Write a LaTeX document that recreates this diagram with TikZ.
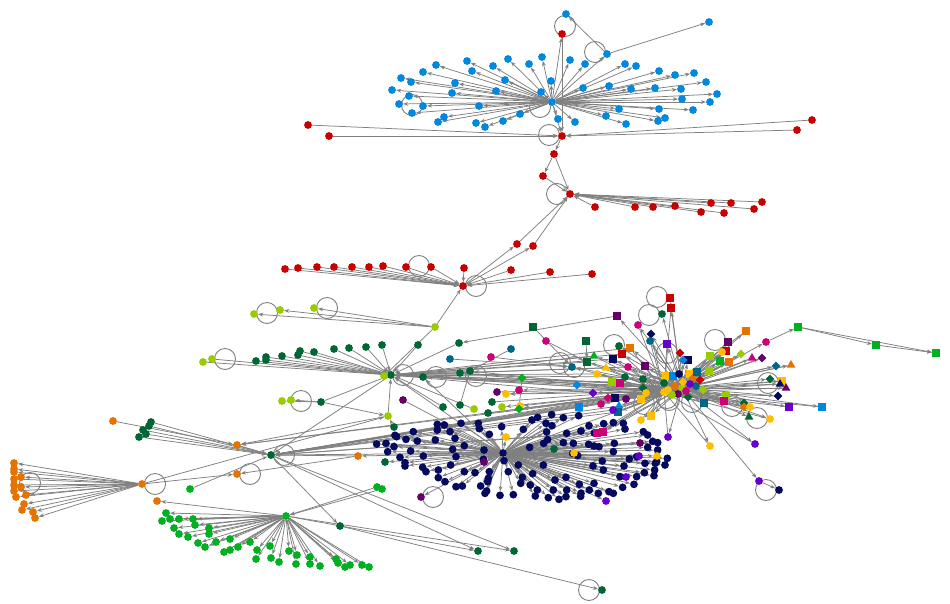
\documentclass[tikz,border=0pt]{standalone}
\usetikzlibrary{arrows.meta,shapes.geometric}
\pgfdeclarelayer{bg}
\pgfdeclarelayer{edges}
\pgfsetlayers{bg,edges,main}
\definecolor{cblue}{RGB}{0,136,224}
\definecolor{cred}{RGB}{200,0,0}
\definecolor{cyg}{RGB}{153,204,0}
\definecolor{cdg}{RGB}{0,102,51}
\definecolor{cnavy}{RGB}{5,10,95}
\definecolor{corange}{RGB}{230,115,0}
\definecolor{cgreen}{RGB}{0,176,32}
\definecolor{cmag}{RGB}{204,0,119}
\definecolor{cpur}{RGB}{102,0,102}
\definecolor{cvio}{RGB}{102,0,204}
\definecolor{cgold}{RGB}{255,190,0}
\definecolor{cteal}{RGB}{0,102,136}
\definecolor{egray}{RGB}{128,128,128}
\newcommand\sloop[3]{\draw[lp] ([shift={(#2,#3)}]#1.center) circle (10.5pt);}
\def\bluelist{436/65,467/61,508/59,542/57,570/60,585/64,625/64,636/66,659/71,675/75,694/73,706/82,717/94,681/89,682/99,710/102,693/110,659/109,665/118,658/121,626/124,619/109,606/116,655/88,631/89,609/86,583/88,575/122,558/119,551/81,541/92,529/64,505/80,493/66,472/71,455/83,423/72,401/78,411/82,392/90,409/96,399/104,412/113,452/93,496/91,479/106,520/114,503/121,485/127,476/123,444/117,438/122}
\def\redalist{595/207,635/207,653/207,675/206,701/212,711/203,724/213,731/203,754/209,762/202}
\def\redblist{285/269,298/268,317/267,334/267,352/267,369/267,383/266,431/267,464/268,511/270,550/272,592/274}
\def\dglist{203/362/cyg,256/361/cdg,266/357/cdg,266/360/cdg,282/356/cdg,298/355/cdg,300/351/cdg,314/352/cdg,334/349/cdg,349/348/cdg,366/347/cdg,382/345/cdg,418/345/cdg}
\def\orlist{14/463,14/469,14/472,14/479,21/477,14/485,14/491,26/495,16/497,24/504,22/510,33/512,35/518}
\def\dllist{151/422,149/426,143/430,146/434,139/437}
\def\grlist{166/513,162/521,170/519,179/519,193/519,174/528,195/525,209/528,179/534,188/537,209/534,198/543,205/547,216/542,230/539,224/552,230/550,238/547,250/542,257/550,270/546,256/559,271/558,279/562,289/551,297/555,296/564,310/557,310/564,320/566,336/559,338/563,345/567,350/565,362/565,369/567}
\def\navylist{262/133,283/135,333/130,385/130,388/146,418/163,455/140,520/148,546/120,563/112,605/104,640/113,588/130,606/137,590/156,593/179,686/107,693/153,717/137,761/131,790/128,820/130,825/147,262/150,300/155,190/155,135/166,140/170,168/178,202/183,256/180,315/175,80/192,108/190,132/200,182/213,113/215,150/232,165/248,165/258,220/228,218/262,228/275,265/270,308/208,302/255,318/230,343/197,343/275,375/278,402/210,400/238,462/242,505/255,475/275,418/275,415/295,413/305,392/318,337/318,318/320,285/305,265/293,405/340,410/333,450/346,490/344,512/310,517/292,548/281,541/315,556/348,580/255,562/330,595/353,610/330,615/300,627/358,648/350,650/330,648/292,688/313,693/340,692/349,718/330,745/340,732/310,777/335,790/340,810/290,818/322,852/313,860/290,883/278,912/287,945/255,914/270,916/250,885/250,838/237,822/258,757/243,729/258,760/270,790/215,793/190,732/198,747/200,716/193,683/227,668/220,670/190,640/188,581/190,539/202,650/160,733/159,880/155,893/165,908/184,923/188,893/202,923/210,952/235,920/245,860/230}
\def\nxlist{484/462/cpur,640/443/cpur,639/456/cvio,626/477/cvio,606/501/cvio,506/437/cgold,574/453/cgold,657/456/cgold}
\def\qalist{671/308/cred/sqn,638/325/cmag/nd,651/334/cnavy/dmn,650/341/cteal/nd,667/344/cvio/sqn,746/331/corange/sqn,726/351/cred/sqn,722/352/cgold/nd,729/362/corange/sqn,720/361/cgreen/sqn,710/356/cyg/sqn,741/354/cyg/dmn,752/358/cmag/trn,762/358/cpur/dmn,776/366/cteal/dmn,791/365/corange/trn,782/381/cgold/sqn,780/384/cnavy/trn,786/388/cpur/trn,778/396/cnavy/dmn,789/407/cvio/sqn,822/407/cblue/sqn,726/396/cyg/sqn,724/401/cmag/sqn,704/403/cteal/sqn,744/403/cdg/dmn,744/407/corange/dmn,750/407/cgold/nd,770/419/cgold/nd,641/399/cgold/sqn,651/416/cgold/sqn,641/420/cgold/nd,645/366/cpur/sqn,643/379/cdg/nd,643/388/cdg/dmn,646/393/cgold/nd,680/353/cred/dmn,688/360/cnavy/sqn,683/360/cblue/dmn,666/376/cgold/sqn,673/376/cblue/sqn,664/383/cdg/nd,679/374/cnavy/nd,690/374/cgold/sqn,683/382/cgold/dmn,693/378/corange/dmn,709/371/cyg/sqn,668/390/cgold/nd,678/394/cpur/nd,688/397/cdg/dmn,672/395/cyg/nd,686/391/cmag/nd,696/386/cteal/nd,700/380/cred/dmn,675/386/corange/nd,690/384/cvio/nd,697/372/cteal/sqn,703/390/cyg/dmn,668/437/cvio/nd,710/446/cgold/nd,755/444/cvio/nd}
\def\qblist{630/348/corange/sqn,622/354/cred/sqn,613/359/cnavy/sqn,628/367/cmag/nd,606/368/cgold/trn,594/356/cgreen/trn,587/362/cdg/sqn,597/374/cgold/nd,625/377/cdg/nd,612/382/cyg/sqn,620/383/cmag/sqn,577/385/cblue/dmn,593/393/cvio/dmn}
\def\qclist{608/398/cmag/dmn,615/398/cnavy/sqn,626/399/cpur/nd,601/404/cmag/nd,579/407/cblue/sqn,619/406/cblue/trn,618/412/cteal/sqn,613/410/cvio/nd,597/433/cmag/sqn,603/432/cmag/sqn}
\begin{document}
\begin{tikzpicture}[x=1pt,y=-1pt,
 nd/.style={circle,inner sep=0pt,minimum size=7.8pt},
 sqn/.style={rectangle,inner sep=0pt,minimum size=7.8pt},
 dmn/.style={diamond,inner sep=0pt,minimum size=8.8pt},
 trn/.style={regular polygon,regular polygon sides=3,inner sep=0pt,minimum size=10pt},
 ed/.style={draw=egray,line width=0.75pt,-{Stealth[length=5pt,width=3.8pt]}},
 ln/.style={draw=egray,line width=0.75pt},
 lp/.style={draw=egray,line width=0.9pt}]
\begin{pgfonlayer}{bg}
\fill[white] (0,0) rectangle (950,603);
\end{pgfonlayer}
\useasboundingbox (0,0) rectangle (950,603);

% ---------- hubs and key nodes ----------
\node[nd,fill=cblue] (bh) at (552,102) {};
\node[nd,fill=cblue] (bx1) at (607,54) {};
\node[nd,fill=cblue] (bx2) at (566,14) {};
\node[nd,fill=cblue] (bx3) at (709,22) {};
\node[nd,fill=cblue] (bL) at (423,106) {};
\node[nd,fill=cred] (r1) at (562,34) {};
\node[nd,fill=cred] (r2) at (562,136) {};
\node[nd,fill=cred] (r3) at (554,154) {};
\node[nd,fill=cred] (r4) at (543,176) {};
\node[nd,fill=cred] (rh2) at (570,194) {};
\node[nd,fill=cred] (r5) at (517,244) {};
\node[nd,fill=cred] (r6) at (533,246) {};
\node[nd,fill=cred] (rh3) at (463,286) {};
\node[nd,fill=cred] (rf1) at (308,125) {};
\node[nd,fill=cred] (rf2) at (329,136) {};
\node[nd,fill=cred] (rf3) at (812,120) {};
\node[nd,fill=cred] (rf4) at (797,130) {};
\node[nd,fill=cred] (r406) at (406,267) {};
\node[nd,fill=cyg] (ygh) at (435,327) {};
\node[nd,fill=cyg] (y254) at (254,314) {};
\node[nd,fill=cyg] (y280) at (280,310) {};
\node[nd,fill=cyg] (y314) at (314,308) {};
\node[nd,fill=cdg] (dgh) at (391,375) {};
\node[nd,fill=cyg] (ygd) at (384,376) {};
\node[nd,fill=cyg] (y212) at (212,359) {};
\node[nd,fill=cdg] (d459) at (459,343) {};
\node[nd,fill=cdg] (d460) at (460,373) {};
\node[nd,fill=cdg] (d470) at (470,371) {};
\node[nd,fill=cdg] (d423) at (423,377) {};
\node[nd,fill=cdg] (d443) at (443,407) {};
\node[nd,fill=cdg] (d460b) at (460,405) {};
\node[nd,fill=cyg] (y474) at (474,409) {};
\node[nd,fill=cdg] (d488) at (488,413) {};
\node[nd,fill=cdg] (d492) at (492,402) {};
\node[nd,fill=cyg] (y388) at (388,416) {};
\node[nd,fill=cdg] (d394) at (394,427) {};
\node[nd,fill=cdg] (d321) at (321,402) {};
\node[nd,fill=cpur] (p403) at (403,400) {};
\node[nd,fill=cyg] (y282) at (282,401) {};
\node[nd,fill=cyg] (y291) at (291,400) {};
\node[nd,fill=cdg] (d385) at (385,462) {};
\node[nd,fill=cdg] (d554) at (554,449) {};
\node[nd,fill=corange] (oh) at (142,484) {};
\node[nd,fill=corange] (o21) at (21,487) {};
\node[nd,fill=corange] (o157) at (157,501) {};
\node[nd,fill=corange] (o113) at (113,421) {};
\node[nd,fill=corange] (o237) at (237,445) {};
\node[nd,fill=corange] (o237b) at (237,474) {};
\node[nd,fill=corange] (o358) at (358,456) {};
\node[nd,fill=cdg] (dgh2) at (271,455) {};
\node[nd,fill=cgreen] (g190) at (190,489) {};
\node[nd,fill=cgreen] (gh) at (286,516) {};
\node[nd,fill=cgreen] (g377) at (377,487) {};
\node[nd,fill=cgreen] (g382) at (382,489) {};
\node[nd,fill=cdg] (d340) at (340,526) {};
\node[nd,fill=cdg] (d478) at (478,551) {};
\node[nd,fill=cdg] (d514) at (514,551) {};
\node[nd,fill=cdg] (d602) at (602,590) {};
\node[nd,fill=cnavy] (nh) at (503,453) {};
\node[nd,fill=cpur] (p421) at (421,497) {};
\node[nd,fill=cyg] (rh) at (682,388) {};
\node[nd,fill=cgold] (rhb) at (664,392) {};
\node[sqn,fill=cred] (r670) at (670,298) {};
\node[nd,fill=cdg] (d662) at (662,314) {};
\node[nd,fill=cdg] (d619) at (619,346) {};
\node[sqn,fill=cpur] (p728) at (728,342) {};
\node[dmn,fill=cdg] (d770) at (770,379) {};
\node[trn,fill=cdg] (d749) at (749,417) {};
\node[nd,fill=cteal] (t572) at (572,367) {};
\node[nd,fill=cvio] (v759) at (759,481) {};
\node[nd,fill=cnavy] (n779) at (779,490) {};
\node[nd,fill=cmag] (m766) at (766,342) {};
\node[sqn,fill=cgreen] (g798) at (798,327) {};
\node[sqn,fill=cgreen] (g876) at (876,345) {};
\node[sqn,fill=cgreen] (g936) at (936,353) {};
\node[sqn,fill=cpur] (p617) at (617,316) {};
\node[sqn,fill=cdg] (d586) at (586,341) {};
\node[sqn,fill=cdg] (d533) at (533,327) {};
\node[nd,fill=cmag] (m546) at (546,341) {};
\node[nd,fill=cteal] (t511) at (511,349) {};
\node[nd,fill=cmag] (m491) at (491,357) {};
\node[nd,fill=cteal] (t450) at (450,359) {};
\node[dmn,fill=cgreen] (gd522) at (522,378) {};
\node[nd,fill=cpur] (p497) at (497,392) {};
\node[nd,fill=cgold] (o506) at (506,394) {};
\node[nd,fill=cmag] (m519) at (519,390) {};
\node[nd,fill=cgold] (o520) at (520,406) {};
\node[dmn,fill=cgreen] (gd519) at (519,409) {};
\node[nd,fill=cyg] (y502) at (502,407) {};

% ---------- leaf nodes ----------
\foreach \x/\y [count=\i] in \bluelist {\node[nd,fill=cblue] (b\i) at (\x,\y) {};}
\foreach \x/\y [count=\i] in \redalist {\node[nd,fill=cred] (ra\i) at (\x,\y) {};}
\foreach \x/\y [count=\i] in \redblist {\node[nd,fill=cred] (rb\i) at (\x,\y) {};}
\foreach \x/\y/\c [count=\i] in \dglist {\node[nd,fill=\c] (dg\i) at (\x,\y) {};}
\foreach \x/\y [count=\i] in \orlist {\node[nd,fill=corange] (o\i) at (\x,\y) {};}
\foreach \x/\y [count=\i] in \dllist {\node[nd,fill=cdg] (dl\i) at (\x,\y) {};}
\foreach \x/\y [count=\i] in \grlist {\node[nd,fill=cgreen] (g\i) at (\x,\y) {};}
\begin{scope}[shift={(350,380)},x=0.3333pt,y=-0.3333pt]
\foreach \x/\y [count=\i] in \navylist {\node[nd,fill=cnavy] (n\i) at (\x,\y) {};}
\end{scope}
\foreach \x/\y/\c [count=\i] in \nxlist {\node[nd,fill=\c] (nx\i) at (\x,\y) {};}
\foreach \x/\y/\c/\s [count=\i] in \qalist {\node[style=\s,fill=\c] (qa\i) at (\x,\y) {};}
\foreach \x/\y/\c/\s [count=\i] in \qblist {\node[style=\s,fill=\c] (qb\i) at (\x,\y) {};}
\foreach \x/\y/\c/\s [count=\i] in \qclist {\node[style=\s,fill=\c] (qc\i) at (\x,\y) {};}

% ---------- edges and loops ----------
\begin{pgfonlayer}{edges}
\foreach \x/\y [count=\i] in \bluelist {\draw[ed] (bh) -- (b\i);}
\foreach \x/\y [count=\i] in \redalist {\draw[ed] (ra\i) -- (rh2);}
\foreach \x/\y [count=\i] in \redblist {\draw[ed] (rb\i) -- (rh3);}
\foreach \x/\y/\c [count=\i] in \dglist {\draw[ed] (dg\i) -- (dgh);}
\foreach \x/\y [count=\i] in \orlist {\draw[ed] (oh) -- (o\i);}
\foreach \x/\y [count=\i] in \dllist {\draw[ed] (dl\i) -- (dgh2);}
\foreach \x/\y [count=\i] in \grlist {\draw[ed] (gh) -- (g\i);}
\foreach \x/\y [count=\i] in \navylist {\draw[ed] (nh) -- (n\i);}
\foreach \x/\y/\c [count=\i] in \nxlist {\draw[ed] (nh) -- (nx\i);}
\foreach \x/\y/\c/\s [count=\i] in \qalist {\draw[ed] (rh) -- (qa\i); \draw[ln] (rhb) -- (qa\i);}
\foreach \x/\y/\c/\s [count=\i] in \qblist {\draw[ed] (rh) -- (qb\i); \draw[ln] (rhb) -- (qb\i); \draw[ed] (qb\i) -- (dgh);}
\foreach \x/\y/\c/\s [count=\i] in \qclist {\draw[ed] (rh) -- (qc\i); \draw[ln] (rhb) -- (qc\i); \draw[ed] (qc\i) -- (dgh2);}
\draw[ed] (bh) -- (bx1); \draw[ed] (bx1) -- (bx2); \draw[ed] (bx1) -- (bx3);
\draw[ed] (bh) -- (bL);
\draw[ed] (r1) -- (r2); \draw[ed] (bh) -- (r2); \draw[ed] (bh) -- (r1);
\draw[ed] (rf1) -- (r2); \draw[ed] (rf2) -- (r2); \draw[ed] (rf3) -- (r2); \draw[ed] (rf4) -- (r2);
\draw[ed] (r2) -- (r3); \draw[ed] (r3) -- (r4); \draw[ed] (r3) -- (rh2); \draw[ed] (r4) -- (rh2);
\draw[ed] (r5) -- (rh2); \draw[ed] (r6) -- (rh2); \draw[ed] (rh3) -- (r5); \draw[ed] (rh3) -- (r6);
\draw[ed] (r406) -- (rh3);
\draw[ed] (ygh) -- (rh3);
\draw[ed] (ygh) -- (y254); \draw[ed] (ygh) -- (y280); \draw[ed] (ygh) -- (y314);
\draw[ed] (ygh) -- (ygd); \draw[ed] (ygd) -- (dgh);
\draw[ed] (y212) -- (dgh);
\draw[ed] (d459) -- (dgh); \draw[ed] (p617) -- (d459);
\draw[ed] (d460) -- (dgh); \draw[ed] (d470) -- (dgh); \draw[ed] (d423) -- (dgh);
\draw[ed] (d443) -- (dgh); \draw[ed] (d460b) -- (d470); \draw[ed] (y388) -- (dgh);
\draw[ed] (d394) -- (y388); \draw[ed] (d321) -- (dgh); \draw[ed] (d321) -- (y388);
\draw[ed] (d321) -- (y291); \draw[ed] (d321) -- (y282);
\draw[ed] (p403) -- (nh); \draw[ed] (y474) -- (dgh); \draw[ed] (d488) -- (rh); \draw[ed] (d492) -- (rh);
\draw[ed] (t511) -- (d470); \draw[ed] (t450) -- (t572); \draw[ed] (m491) -- (t572);
\draw[ed] (d533) -- (t572); \draw[ed] (m546) -- (qb7); \draw[ed] (d586) -- (qb7);
\draw[ln] (gd522) -- (gd519);
\draw[ed] (rh) -- (o506); \draw[ed] (rh) -- (gd519); \draw[ed] (rh) -- (p497); \draw[ed] (rh) -- (m519);
\draw[ed] (rh) -- (o520); \draw[ed] (rh) -- (y502); \draw[ed] (rh) -- (t572);
\draw[ed] (rhb) -- (o506); \draw[ed] (rhb) -- (gd519); \draw[ed] (rhb) -- (d460); \draw[ed] (rhb) -- (d470);
\draw[ed] (rhb) -- (dgh); \draw[ed] (rhb) -- (d423); \draw[ed] (rhb) -- (dgh2); \draw[ed] (rhb) -- (o237);
\draw[ed] (rhb) -- (t572); \draw[ed] (rhb) -- (rh);
\draw[ed] (rh) -- (r670); \draw[ed] (rh) -- (d662); \draw[ed] (rh) -- (d619); \draw[ed] (rh) -- (p728);
\draw[ed] (rh) -- (d770); \draw[ed] (rh) -- (d749); \draw[ed] (rh) -- (v759); \draw[ed] (v759) -- (n779);
\draw[ed] (rh) -- (m766); \draw[ed] (m766) -- (g798); \draw[ed] (g798) -- (g876); \draw[ed] (g876) -- (g936);
\draw[ed] (g798) -- (g936); \draw[ed] (rh) -- (p617);
\draw[ed] (rh) -- (dgh); \draw[ed] (rh) -- (d423); \draw[ed] (rh) -- (d460); \draw[ed] (rh) -- (dgh2);
\draw[ed] (rh) -- (o237); \draw[ed] (rh) -- (nh);
\draw[ed] (nh) -- (dgh); \draw[ed] (nh) -- (d423); \draw[ed] (nh) -- (dgh2); \draw[ed] (nh) -- (d554);
\draw[ed] (nh) -- (d385); \draw[ed] (nh) -- (p421); \draw[ed] (nh) -- (o358);
\draw[ed] (dgh) -- (dgh2);
\draw[ed] (gh) -- (o157); \draw[ed] (g377) -- (gh); \draw[ed] (g382) -- (gh); \draw[ed] (g190) -- (dgh2);
\draw[ed] (dgh2) -- (d340); \draw[ed] (d340) -- (d602); \draw[ed] (dgh2) -- (d478); \draw[ed] (dgh2) -- (d514);
\draw[ed] (gh) -- (d478); \draw[ed] (gh) -- (d514);
\draw[ed] (oh) -- (o237b); \draw[ed] (oh) -- (y388); \draw[ed] (o113) -- (o237); \draw[ed] (y388) -- (o237);
\draw[ed] (o358) -- (o237b); \draw[ed] (o358) -- (dgh2); \draw[ed] (oh) -- (o21);
\draw[ed] (o237) -- (dgh2);
\sloop{r1}{3}{-8} \sloop{bx1}{-12}{-2} \sloop{bh}{-12}{5} \sloop{r2}{-13}{-1} \sloop{bL}{-11}{-1}
\sloop{rh2}{-13}{0} \sloop{r406}{13}{-1} \sloop{rh3}{13}{0}
\sloop{y254}{13}{-1} \sloop{y314}{13}{0} \sloop{dgh}{12}{0} \sloop{d423}{13}{0} \sloop{d470}{6}{5}
\sloop{y212}{13}{0} \sloop{y291}{10}{1}
\sloop{oh}{13}{0} \sloop{o21}{9}{-4} \sloop{dgh2}{13}{0} \sloop{o237b}{13}{0} \sloop{d602}{-13}{0}
\sloop{p421}{12}{0} \sloop{n779}{-13}{0}
\sloop{r670}{-13}{-1} \sloop{d662}{-13}{1} \sloop{d619}{-5}{-1} \sloop{p728}{-13}{-2}
\sloop{d770}{-2}{4} \sloop{d749}{8}{1} \sloop{t572}{-12}{-4} \sloop{t572}{2}{0}
\sloop{rh}{-15}{-35} \sloop{rh}{10}{14} \sloop{rh}{50}{18} \sloop{rh}{-15}{10}
\sloop{rhb}{-10}{-5} \sloop{rhb}{5}{8} \sloop{rhb}{-20}{12}
\end{pgfonlayer}
\end{tikzpicture}
\end{document}
